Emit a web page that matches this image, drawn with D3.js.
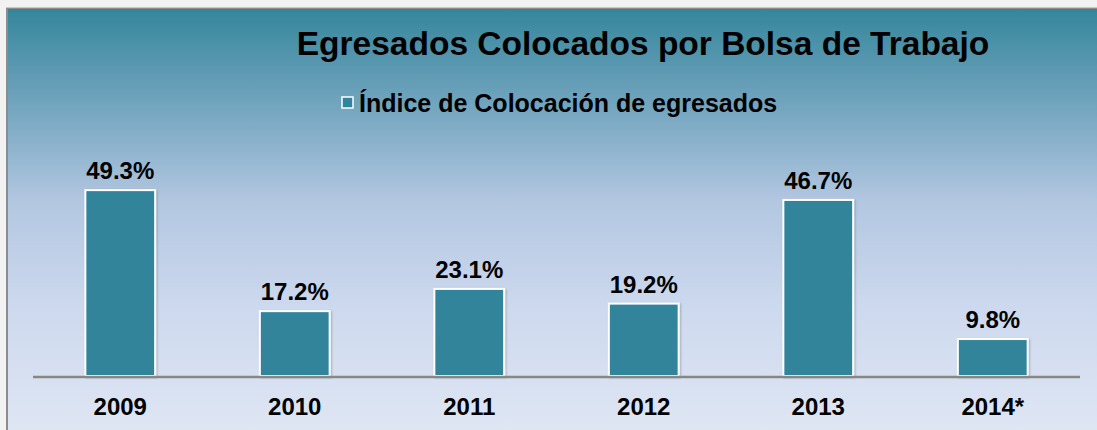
<!DOCTYPE html>
<html><head><meta charset="utf-8">
<script src="https://cdn.jsdelivr.net/npm/d3@7"></script>
<style>html,body{margin:0;padding:0;background:#f2f2f2;}svg{display:block;}</style>
</head><body>
<svg id="c" width="1097" height="430"></svg>
<script>
const categories = ["2009","2010","2011","2012","2013","2014*"];
const values = [49.3, 17.2, 23.1, 19.2, 46.7, 9.8];
const valueLabels = ["49.3%","17.2%","23.1%","19.2%","46.7%","9.8%"];
const title = "Egresados Colocados por Bolsa de Trabajo";
const seriesName = "Índice de Colocación de egresados";

const svg = d3.select("#c");
const defs = svg.append("defs");
const g = defs.append("linearGradient").attr("id","bg").attr("x1",0).attr("y1",0).attr("x2",0).attr("y2",1);
[[0,"#34869b"],[0.25,"#79a8c2"],[0.45,"#b3c7e1"],[0.7,"#cdd9ee"],[1,"#e0e7f4"]].forEach(s=>g.append("stop").attr("offset",s[0]).attr("stop-color",s[1]));
const f = defs.append("filter").attr("id","sh").attr("x","-10%").attr("y","-10%").attr("width","130%").attr("height","130%");
f.append("feDropShadow").attr("dx",1).attr("dy",1).attr("stdDeviation",1).attr("flood-color","#000").attr("flood-opacity",0.25);

svg.append("rect").attr("x",7).attr("y",8).attr("width",1100).attr("height",430).attr("fill","url(#bg)")
  .attr("stroke","#8c8c8c").attr("stroke-width",2);
svg.append("line").attr("x1",6).attr("x2",1097).attr("y1",7.5).attr("y2",7.5).attr("stroke","#c8c8c8").attr("stroke-width",1);

const x = d3.scaleBand().domain(categories).range([33,1080]).paddingInner(0.6).paddingOuter(0.3);
const y = d3.scaleLinear().domain([0,50]).range([376,187.5]);

svg.append("g").selectAll("rect").data(values).join("rect")
  .attr("x",(d,i)=>x(categories[i])).attr("width",x.bandwidth())
  .attr("y",d=>y(d)).attr("height",d=>y(0)-y(d))
  .attr("fill","#31849b").attr("stroke","#ffffff").attr("stroke-width",2).attr("filter","url(#sh)");

const ax = svg.append("g").attr("transform",`translate(0,${y(0)+1})`).call(d3.axisBottom(x).tickSize(0).tickPadding(21));
ax.select(".domain").attr("stroke","#878787").attr("stroke-width",2.5).attr("d","M33,0H1080");
ax.selectAll("text").attr("font-family","Liberation Sans, Arial, sans-serif").attr("font-size",24).attr("font-weight","bold").attr("fill","#000");

svg.append("g").selectAll("text").data(values).join("text")
  .attr("x",(d,i)=>x(categories[i])+x.bandwidth()/2).attr("y",d=>y(d)-11)
  .attr("text-anchor","middle").attr("font-family","Liberation Sans, Arial, sans-serif")
  .attr("font-size",24).attr("font-weight","bold").attr("fill","#000").text((d,i)=>valueLabels[i]);

svg.append("text").attr("x",643).attr("y",55).attr("text-anchor","middle")
  .attr("font-family","Liberation Sans, Arial, sans-serif").attr("font-size",33.5).attr("font-weight","bold").text(title);

const lg = svg.append("g");
lg.append("rect").attr("x",342).attr("y",97).attr("width",11).attr("height",11).attr("fill","#31849b").attr("stroke","#fff").attr("stroke-width",1.5);
lg.append("text").attr("x",359).attr("y",112).attr("font-family","Liberation Sans, Arial, sans-serif")
  .attr("font-size",25).attr("font-weight","bold").text(seriesName);
</script>
</body></html>
